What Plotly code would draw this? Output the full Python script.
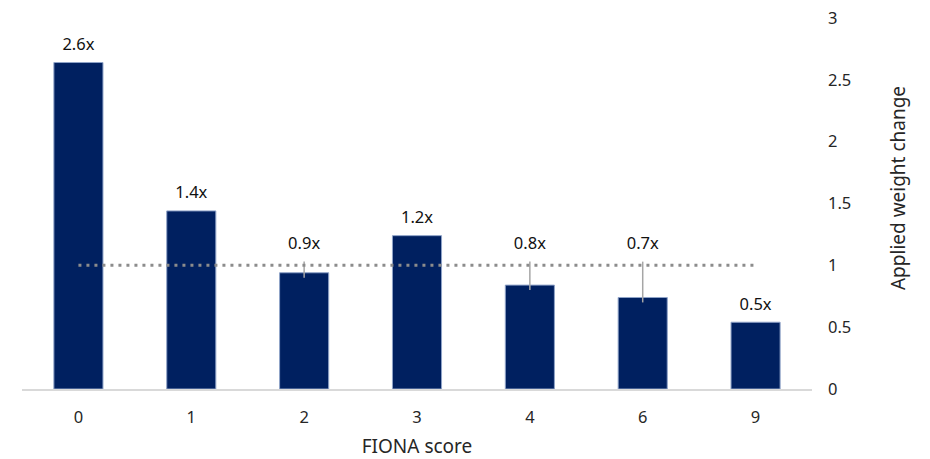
import plotly.graph_objects as go

# FIONA score buckets and the weight multiplier applied to each
scores = ["0", "1", "2", "3", "4", "6", "9"]
weight_change = [2.64, 1.44, 0.94, 1.24, 0.84, 0.74, 0.54]

# Vertical range markers (low/high) shown on some buckets; None = no marker
range_low = [None, None, 0.90, None, 0.80, 0.70, None]
range_high = [None, None, 1.03, None, 1.03, 1.03, None]

# Neutral reference level
reference_level = 1.0

err_plus = [(h - v) if h is not None else 0 for h, v in zip(range_high, weight_change)]
err_minus = [(v - l) if l is not None else 0 for l, v in zip(range_low, weight_change)]

# value labels sit above the bar, or above the range marker when there is one
label_y = [max(v, h) if h is not None else v for v, h in zip(weight_change, range_high)]
label_text = [f"{v:.1f}x" for v in weight_change]

FONT = "Noto Sans, Open Sans, sans-serif"
TXT = "#262626"

fig = go.Figure()

fig.add_trace(go.Bar(
    x=scores,
    y=weight_change,
    marker=dict(color="#002060", line=dict(color="#8fa3c8", width=1)),
    width=0.435,
    error_y=dict(
        type="data",
        symmetric=False,
        array=err_plus,
        arrayminus=err_minus,
        color="#a6a6a6",
        thickness=1.5,
        width=0,
    ),
    hoverinfo="x+y",
    showlegend=False,
))

fig.add_trace(go.Scatter(
    x=[scores[0], scores[-1]],
    y=[reference_level, reference_level],
    mode="lines",
    line=dict(color="#8c8c8c", width=3, dash="3px,5px"),
    hoverinfo="skip",
    showlegend=False,
))

# invisible markers give the labels a small gap above the anchor point
fig.add_trace(go.Scatter(
    x=scores,
    y=label_y,
    mode="markers+text",
    marker=dict(size=12, color="rgba(0,0,0,0)"),
    text=label_text,
    textposition="top center",
    textfont=dict(family=FONT, size=16.5, color="#111111"),
    cliponaxis=False,
    hoverinfo="skip",
    showlegend=False,
))

# right-hand axis title, placed slightly above the plot's vertical centre
fig.add_annotation(
    text="Applied weight change",
    xref="paper", yref="paper",
    x=1.109, y=0.542,
    xanchor="center", yanchor="middle",
    textangle=-90,
    showarrow=False,
    font=dict(family=FONT, size=19, color=TXT),
)

fig.update_layout(
    width=930,
    height=459,
    margin=dict(l=22, r=118, t=18, b=70),
    paper_bgcolor="white",
    plot_bgcolor="white",
    font=dict(family=FONT, size=16.5, color=TXT),
    xaxis=dict(
        type="category",
        automargin=False,
        showgrid=False,
        showline=True,
        linecolor="#d9d9d9",
        linewidth=2,
        ticks="",
        ticklabelstandoff=12,
        tickfont=dict(family=FONT, size=16.5, color=TXT),
        title=dict(text="FIONA score", font=dict(family=FONT, size=19, color=TXT), standoff=17),
    ),
    yaxis=dict(
        side="right",
        automargin=False,
        range=[0, 3],
        dtick=0.5,
        showgrid=False,
        zeroline=False,
        showline=False,
        ticks="",
        ticklabelstandoff=15,
        tickfont=dict(family=FONT, size=16.5, color=TXT),
    ),
)

fig.write_html("out.html")
